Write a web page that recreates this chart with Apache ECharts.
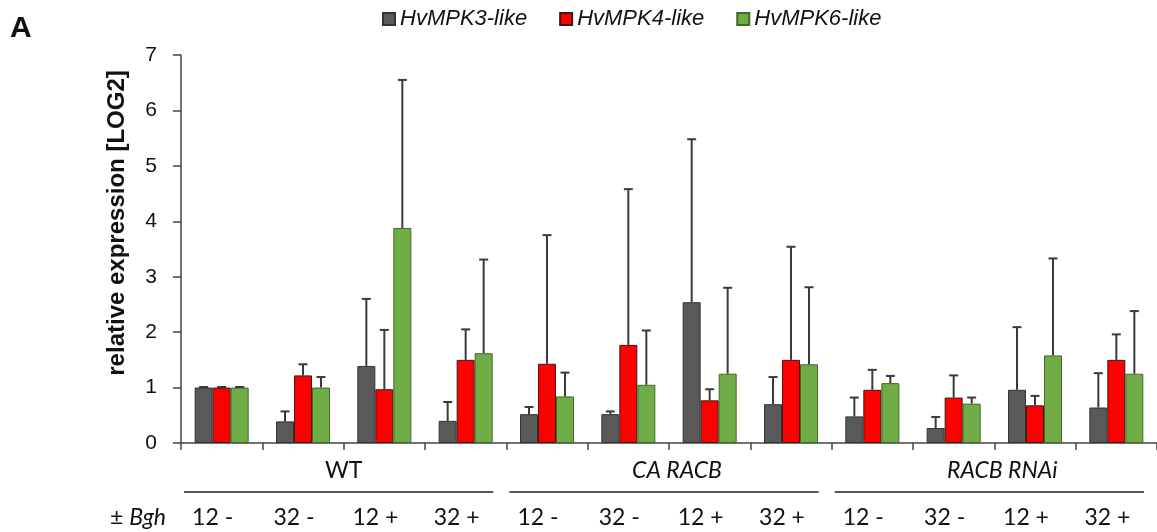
<!DOCTYPE html>
<html>
<head>
<meta charset="utf-8">
<script src="https://cdn.jsdelivr.net/npm/echarts@6/dist/echarts.min.js"></script>
<style>
  html, body { margin: 0; padding: 0; background: #fff; }
  #main { width: 1157px; height: 532px; }
</style>
</head>
<body>
<div id="main"></div>
<script>
// categories (time point and Bgh inoculation) and genotype groups
const conditions = ['12 -', '32 -', '12 +', '32 +', '12 -', '32 -', '12 +', '32 +', '12 -', '32 -', '12 +', '32 +'];
const genotypes = ['WT', 'CA RACB', 'RACB RNAi'];
const geneNames = ['HvMPK3-like', 'HvMPK4-like', 'HvMPK6-like'];

// mean relative expression
const mpk3 = [1.00, 0.39, 1.39, 0.40, 0.52, 0.52, 2.54, 0.70, 0.48, 0.27, 0.96, 0.64];
const mpk4 = [1.00, 1.22, 0.97, 1.50, 1.43, 1.77, 0.77, 1.50, 0.96, 0.82, 0.68, 1.50];
const mpk6 = [1.00, 1.00, 3.88, 1.62, 0.84, 1.05, 1.25, 1.42, 1.08, 0.71, 1.58, 1.25];

// upper error (SD)
const mpk3Err = [0.01, 0.18, 1.21, 0.34, 0.13, 0.05, 2.94, 0.49, 0.34, 0.20, 1.13, 0.62];
const mpk4Err = [0.01, 0.20, 1.07, 0.55, 2.32, 2.81, 0.20, 2.04, 0.36, 0.40, 0.17, 0.46];
const mpk6Err = [0.01, 0.19, 2.67, 1.69, 0.43, 0.98, 1.55, 1.39, 0.13, 0.11, 1.75, 1.13];

const yTicks = [0, 1, 2, 3, 4, 5, 6, 7];

const colors = ['#595959', '#ff0000', '#70ad47'];
const borders = ['#333333', '#3a1a1a', '#3f6b26'];
const BAR_W = 18;

let myChart = echarts.init(document.getElementById('main'));

function barSeries(name, values, idx) {
    return {
        name: name,
        type: 'bar',
        barWidth: BAR_W,
        barGap: '0%',
        data: values,
        itemStyle: { color: colors[idx], borderColor: borders[idx], borderWidth: 1 },
        z: 2
    };
}

function errorSeries(values, errs, idx) {
    return {
        type: 'custom',
        name: 'err' + idx,
        data: values.map((v, i) => [i, v, errs[i]]),
        z: 5,
        renderItem: function (params, api) {
            let base = api.coord([api.value(0), api.value(1)]);
            let top = api.coord([api.value(0), api.value(1) + api.value(2)]);
            let x = base[0] + (idx - 1) * BAR_W;
            let style = { stroke: '#3a3a3a', lineWidth: 2 };
            return {
                type: 'group',
                children: [
                    { type: 'line', shape: { x1: x, y1: base[1], x2: x, y2: top[1] }, style: style },
                    { type: 'line', shape: { x1: x - 4.5, y1: top[1], x2: x + 4.5, y2: top[1] }, style: style }
                ]
            };
        }
    };
}

let option = {
    animation: false,
    backgroundColor: '#fff',
    legend: {
        data: geneNames,
        top: 3,
        left: 377,
        itemWidth: 12,
        itemHeight: 12,
        itemGap: 32,
        icon: 'rect',
        textStyle: { fontFamily: 'Liberation Sans', fontStyle: 'italic', fontSize: 22, color: '#111' }
    },
    grid: { left: 181, right: 0, top: 55, bottom: 89 },
    xAxis: [
        {
            type: 'category',
            data: conditions,
            axisLine: { lineStyle: { color: '#444', width: 1.5 } },
            axisTick: { show: true, interval: 0, length: 7, lineStyle: { color: '#444', width: 1.5 } },
            axisLabel: {
                interval: 0, margin: 63, fontFamily: 'Lato', fontSize: 23, color: '#111',
                padding: [0, 18, 0, 0]
            }
        },
        {
            type: 'category',
            data: genotypes,
            position: 'bottom',
            axisLine: { show: false },
            axisTick: { show: false },
            axisLabel: {
                interval: 0, margin: 16,
                formatter: v => v === 'WT' ? '{n|' + v + '}' : '{i|' + v + '}',
                rich: {
                    n: { fontFamily: 'Lato', fontSize: 23, color: '#111' },
                    i: { fontFamily: 'Lato', fontSize: 23, fontStyle: 'italic', color: '#111', padding: [0, 0, 0, 16] }
                }
            }
        }
    ],
    yAxis: {
        type: 'value',
        min: 0,
        max: 7,
        interval: 1,
        splitLine: { show: false },
        axisLine: { show: true, lineStyle: { color: '#444', width: 1.5 } },
        axisTick: { show: true, length: 8, lineStyle: { color: '#444', width: 1.5 } },
        axisLabel: {
            margin: 24, fontFamily: 'Liberation Sans', fontSize: 21, color: '#111',
            formatter: v => yTicks.indexOf(v) >= 0 ? String(v) : ''
        }
    },
    series: [
        barSeries(geneNames[0], mpk3, 0),
        barSeries(geneNames[1], mpk4, 1),
        barSeries(geneNames[2], mpk6, 2),
        errorSeries(mpk3, mpk3Err, 0),
        errorSeries(mpk4, mpk4Err, 1),
        errorSeries(mpk6, mpk6Err, 2)
    ]
};

myChart.setOption(option);

// group underlines, label "A", y title and "± Bgh"
let c0 = myChart.convertToPixel({ xAxisIndex: 1 }, genotypes[0]);
let c1 = myChart.convertToPixel({ xAxisIndex: 1 }, genotypes[1]);
let groupW = c1 - c0;
let graphics = genotypes.map(g => {
    let c = myChart.convertToPixel({ xAxisIndex: 1 }, g);
    return {
        type: 'line',
        shape: { x1: c - groupW / 2 + 3, y1: 492, x2: c + groupW / 2 - 13, y2: 492 },
        style: { stroke: '#555', lineWidth: 2 }
    };
});
graphics.push({
    type: 'text', left: 10, top: 14,
    style: { text: 'A', font: 'bold 30px "Liberation Sans"', fill: '#111' }
});
graphics.push({
    type: 'text', x: 117, y: 223, rotation: Math.PI / 2,
    style: {
        text: 'relative expression [LOG2]', font: 'bold 24px "Liberation Sans"',
        fill: '#111', align: 'center', verticalAlign: 'middle'
    }
});
graphics.push({
    type: 'text', x: 166, y: 518,
    style: {
        text: '{n|± }{i|Bgh}', align: 'right', verticalAlign: 'middle',
        rich: {
            n: { fontFamily: 'Lato', fontSize: 23, fill: '#111' },
            i: { fontFamily: 'Lato', fontSize: 23, fontStyle: 'italic', fill: '#111' }
        }
    }
});
myChart.setOption({ graphic: graphics });
</script>
</body>
</html>
